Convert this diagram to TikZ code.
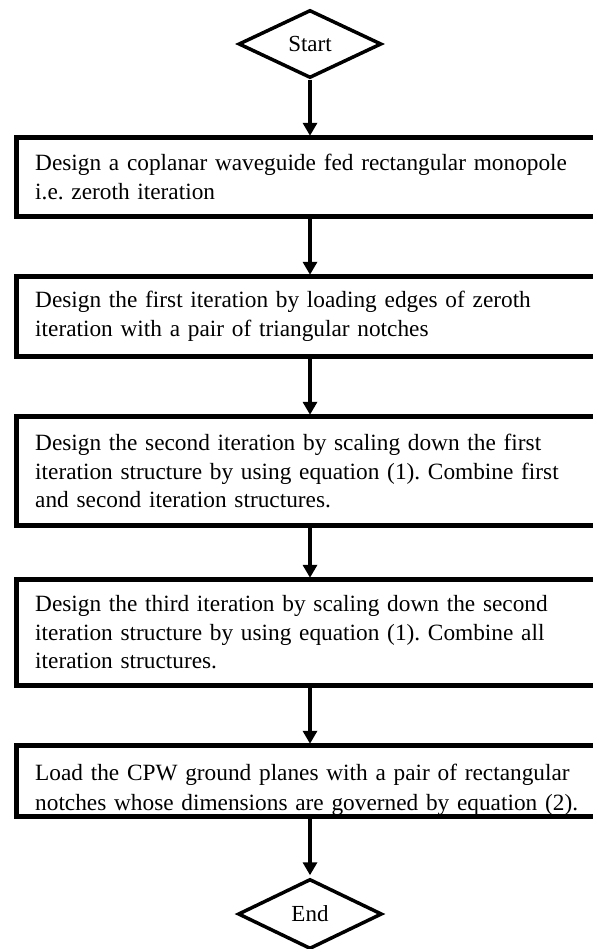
\documentclass[tikz,border=0pt]{standalone}
\usepackage{fontspec}
\setmainfont{Liberation Serif}
\usetikzlibrary{shapes.geometric,arrows.meta}
\frenchspacing
\begin{document}
\begin{tikzpicture}[x=1pt,y=-1pt,
  stepbox/.style={rectangle, fill=white, anchor=west, text width=600pt, inner xsep=18.5pt, inner ysep=0pt, align=left, font=\frenchspacing\fontsize{23.3}{28.5}\selectfont},
  boxline/.style={draw=black, line width=4.8pt},
  term/.style={diamond, draw=black, fill=white, line width=3.5pt, minimum width=143pt, minimum height=68pt, inner sep=0pt, font=\fontsize{23}{27}\selectfont},
  flow/.style={draw=black, line width=4pt, shorten >=2pt, -{Triangle[length=13pt,width=14pt]}}
]
\useasboundingbox (0,0) rectangle (593,949);
\clip (0,0) rectangle (593,949);
\fill[white] (0,0) rectangle (593,949);

\node[term] (start) at (310,44) {Start};

\node[stepbox, minimum height=78pt] (b1) at (16.5,177)
  {Design a coplanar waveguide fed rectangular monopole\\ i.e. zeroth iteration};
\node[stepbox, minimum height=79pt] (b2) at (16.5,316.5)
  {Design the first iteration by loading edges of zeroth\\ iteration with a pair of triangular notches};
\node[stepbox, minimum height=108pt] (b3) at (16.5,471)
  {Design the second iteration by scaling down the first\\ iteration structure by using equation (1). Combine first\\ and second iteration structures.};
\node[stepbox, minimum height=105pt] (b4) at (16.5,632.5)
  {Design the third iteration by scaling down the second\\ iteration structure by using equation (1). Combine all\\ iteration structures.};
\node[stepbox, minimum height=70pt, font=\frenchspacing\fontsize{23.3}{30}\selectfont] (b5) at (16.5,781)
  {\rule{0pt}{35pt}Load the CPW ground planes with a pair of rectangular\\ notches whose dimensions are governed by equation (2).};

\foreach \b in {b1,b2,b3,b4,b5}{
  \draw[boxline] (\b.north west) rectangle (\b.south east);
}

\node[term, minimum width=144pt, minimum height=70pt] (end) at (310,914) {End};

\draw[flow] (start.south) -- (start.south |- b1.north);
\draw[flow] (b1.south -| start) -- (b2.north -| start);
\draw[flow] (b2.south -| start) -- (b3.north -| start);
\draw[flow] (b3.south -| start) -- (b4.north -| start);
\draw[flow] (b4.south -| start) -- (b5.north -| start);
\draw[flow] (b5.south -| start) -- (end.north);
\end{tikzpicture}
\end{document}
